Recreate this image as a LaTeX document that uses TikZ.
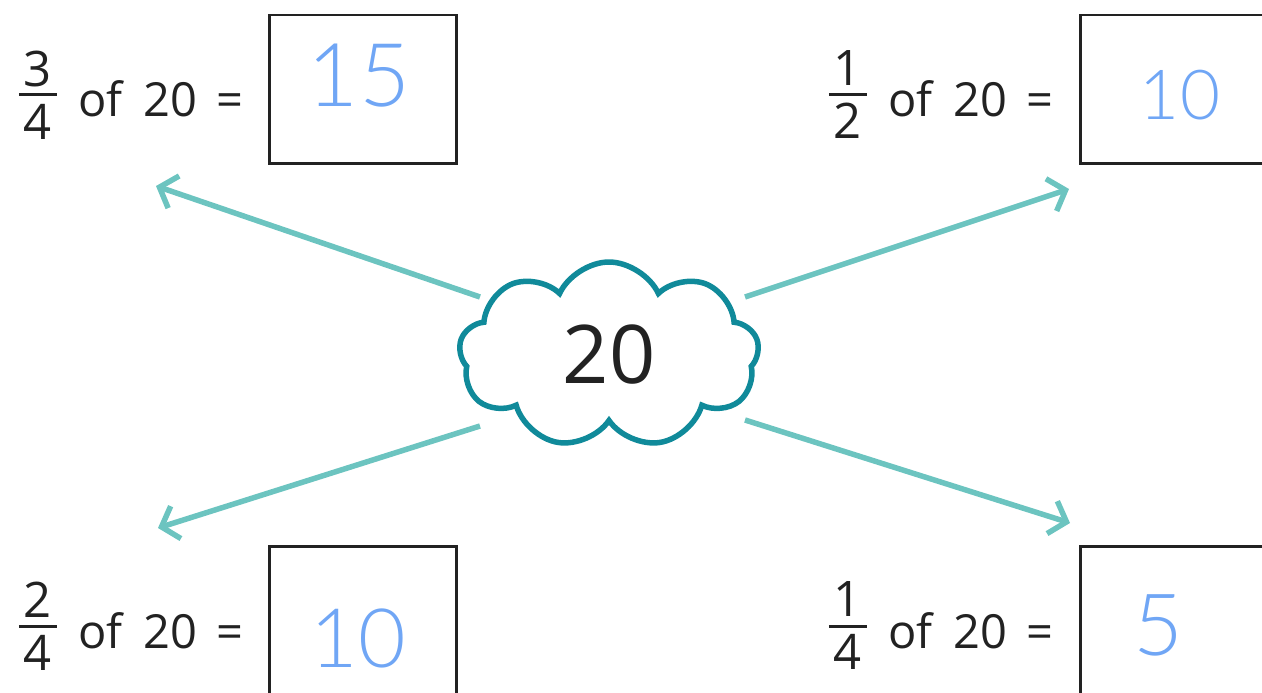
\documentclass[tikz,border=0pt]{standalone}
\usepackage{fontspec}
\setmainfont{Open Sans}
\IfFontExistsTF{Lato Light}{\newfontfamily\handfont{Lato Light}}{%
  \IfFontExistsTF{DejaVu Sans ExtraLight}{\newfontfamily\handfont{DejaVu Sans ExtraLight}}{%
    \newfontfamily\handfont{Fira Sans}}}
\usetikzlibrary{arrows.meta,shapes.symbols}
\definecolor{cloudteal}{RGB}{16,138,154}
\definecolor{arrowteal}{RGB}{108,196,192}
\definecolor{inkblue}{RGB}{112,166,245}
\definecolor{textgrey}{RGB}{34,34,34}

\begin{document}
\begin{tikzpicture}[x=1pt,y=-1pt,>={Straight Barb[length=15pt,width=34pt]},
    box/.style={draw=textgrey,line width=2.5pt,anchor=north west,inner sep=0pt,
      minimum width=187pt,minimum height=148pt},
    frac/.style={align=center,inner xsep=5pt,inner ysep=0pt,text=textgrey,
      font=\fontsize{49}{53}\selectfont},
    sentence/.style={anchor=base west,inner sep=0pt,text=textgrey,
      font=\fontsize{47}{60}\selectfont},
    written/.style={text=inkblue,inner sep=0pt,font=\handfont\fontsize{88}{88}\selectfont},
    part/.style={->,draw=arrowteal,line width=5.5pt}]
  \useasboundingbox (0,0) rectangle (1262,693);
  \clip (0,0) rectangle (1262,693);

  \node[cloud,cloud puffs=9,cloud puff arc=130,cloud ignores aspect,
    draw=cloudteal,line width=5.5pt,fill=white,minimum width=300pt,minimum height=186pt,
    text=textgrey,font=\fontsize{81}{81}\selectfont] (whole) at (609,355) {20};

  % top left
  \node[box] (tlbox) at (268,14) {};
  \node[frac] (tlfrac) at (38,95) {3\\4};
  \draw[textgrey,line width=3pt] (tlfrac.west) -- (tlfrac.east);
  \node[sentence] (tltext) at (78,117) {of\hspace{9pt} 20\hspace{7pt} =};
  \node[written] (tlans) at (359,76) {15};

  % top right
  \node[box,minimum width=220pt] (trbox) at (1079,14) {};
  \node[frac] (trfrac) at (848,95) {1\\2};
  \draw[textgrey,line width=3pt] (trfrac.west) -- (trfrac.east);
  \node[sentence] (trtext) at (888,117) {of\hspace{9pt} 20\hspace{7pt} =};
  \node[written,font=\handfont\fontsize{69}{69}\selectfont] (trans) at (1180,95) {10};

  % bottom left
  \node[box,minimum height=170pt] (blbox) at (268,545) {};
  \node[frac] (blfrac) at (38,626) {2\\4};
  \draw[textgrey,line width=3pt] (blfrac.west) -- (blfrac.east);
  \node[sentence] (bltext) at (78,648) {of\hspace{9pt} 20\hspace{7pt} =};
  \node[written,font=\handfont\fontsize{82}{82}\selectfont] (blans) at (358,638) {10};

  % bottom right
  \node[box,minimum width=220pt,minimum height=170pt] (brbox) at (1079,545) {};
  \node[frac] (brfrac) at (848,626) {1\\4};
  \draw[textgrey,line width=3pt] (brfrac.west) -- (brfrac.east);
  \node[sentence] (brtext) at (888,648) {of\hspace{9pt} 20\hspace{7pt} =};
  \node[written,font=\handfont\fontsize{86}{86}\selectfont] (brans) at (1158,625) {5};

  \coordinate (tlfrom) at (480,297);
  \coordinate (tlto) at (156,186);
  \coordinate (trfrom) at (745,297);
  \coordinate (trto) at (1069,189);
  \coordinate (blfrom) at (480,426);
  \coordinate (blto) at (158,528);
  \coordinate (brfrom) at (745,420);
  \coordinate (brto) at (1070,523);
  \draw[part] (tlfrom) -- (tlto);
  \draw[part] (trfrom) -- (trto);
  \draw[part] (blfrom) -- (blto);
  \draw[part] (brfrom) -- (brto);
\end{tikzpicture}
\end{document}
